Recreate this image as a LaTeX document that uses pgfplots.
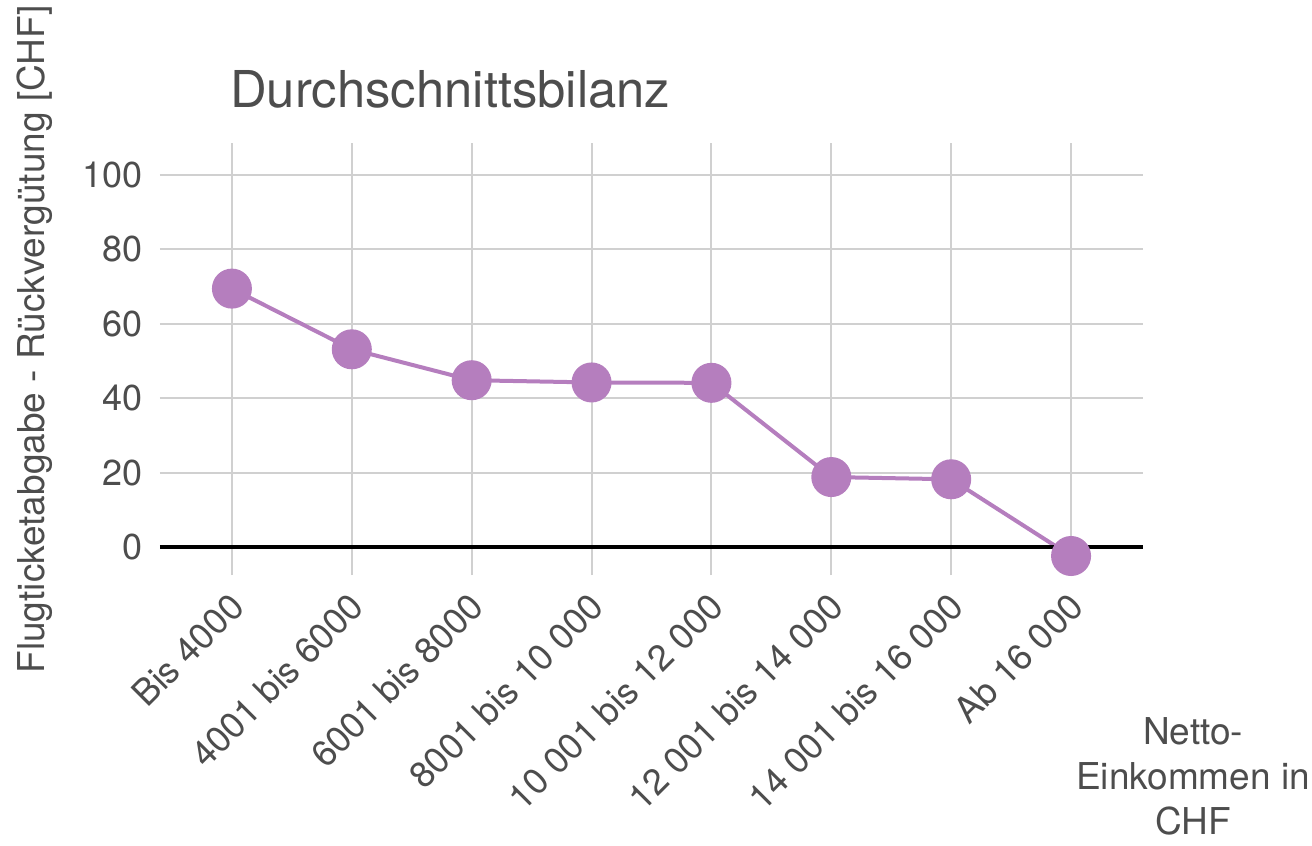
\documentclass[border=0pt]{standalone}
\usepackage{pgfplots}
\pgfplotsset{compat=1.18}
\usepackage{fontspec}
\setmainfont{TeX Gyre Heros}
\definecolor{txtgray}{HTML}{4D4D4D}
\definecolor{gridgray}{HTML}{D0D0D0}
\definecolor{lila}{HTML}{B57EBE}

\begin{document}
\begin{tikzpicture}
  \useasboundingbox (-80pt,-135.5pt) rectangle (576pt,287.5pt);
  \begin{axis}[
    at={(0,0)}, anchor=south west,
    scale only axis,
    width=491.5pt, height=216pt,
    xmin=-0.6, xmax=7.6,
    ymin=-7.5, ymax=108.5,
    axis line style={draw=none},
    major tick style={draw=none},
    xtick={0,...,7},
    xticklabels={Bis 4000, 4001 bis 6000, 6001 bis 8000, 8001 bis 10 000,
      10 001 bis 12 000, 12 001 bis 14 000, 14 001 bis 16 000, Ab 16 000},
    ytick={0,20,...,100},
    grid=major,
    major grid style={gridgray, line width=1pt},
    tick label style={font=\fontsize{18}{20}\selectfont, text=txtgray},
    xticklabel style={rotate=45, anchor=north east, inner sep=2pt,
      yshift=-2pt, xshift=-5pt},
    yticklabel style={xshift=-5pt},
    /pgf/number format/assume math mode=true,
    ylabel={Flugticketabgabe - Rückvergütung [CHF]},
    ylabel style={font=\fontsize{18.5}{20}\selectfont, text=txtgray,
      at={(axis description cs:-0.127,0.545)}, anchor=center, rotate=0},
    clip=false,
  ]
    \addplot[lila, line width=2pt, mark=*, mark size=9pt,
      mark options={fill=lila, draw=none}] coordinates {
      (0,69.4) (1,53.1) (2,44.8) (3,44.2) (4,44.1) (5,18.8) (6,18.2) (7,-2.4)
    };
    \addplot[black, line width=2pt] coordinates {(-0.6,0) (7.6,0)};
    \node[anchor=base west, inner sep=0, text=txtgray,
      font=\fontsize{25.4}{30}\selectfont]
      at ([yshift=17.5pt]axis description cs:0.071,1) {Durchschnittsbilanz};
    \node[anchor=north, inner sep=0, align=center, text=txtgray,
      font=\fontsize{18.5}{22.5}\selectfont]
      at ([yshift=-71pt]axis description cs:1.051,0) {Netto-\\Einkommen in\\CHF};
  \end{axis}
\end{tikzpicture}
\end{document}
